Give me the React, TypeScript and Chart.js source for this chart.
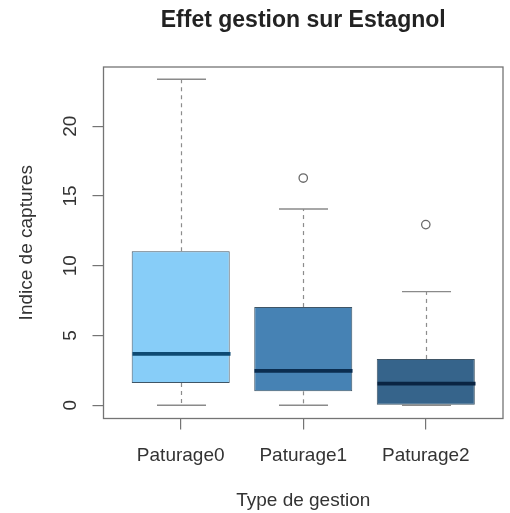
import React, { useEffect, useRef } from 'react';
import { Chart, registerables } from 'chart.js';

Chart.register(...registerables);

// ---- data ----
const categories = ['Paturage0', 'Paturage1', 'Paturage2'];
const lowerWhisker = [0, 0, 0];
const q1 = [1.6, 1.0, 0];
const medians = [3.68, 2.46, 1.55];
const q3 = [11.04, 7.04, 3.32];
const upperWhisker = [23.37, 14.07, 8.15];
const outlierGroups = [2, 3];
const outlierValues = [16.29, 12.95];
const yTicks = [0, 5, 10, 15, 20];

// ---- styles ----
const boxColors = ['#87CDF8', '#4682B4', '#36648B'];
const medianColors = ['#0E4A73', '#0B2D50', '#0A2442'];
const FONT = '"Liberation Sans", Arial, Helvetica, sans-serif';
const FRAME = '#747474';

const boxplotPlugin = {
  id: 'boxplotExtras',
  afterDatasetsDraw(chart: any) {
    const { ctx, chartArea, scales } = chart;
    const x = scales.x;
    const y = scales.y;
    const unit = x.getPixelForValue(2) - x.getPixelForValue(1);
    const boxHalf = unit * 0.4;
    const capHalf = unit * 0.2;
    const line = (x1: number, y1: number, x2: number, y2: number) => {
      ctx.beginPath();
      ctx.moveTo(x1, y1);
      ctx.lineTo(x2, y2);
      ctx.stroke();
    };
    ctx.save();
    for (let i = 0; i < categories.length; i++) {
      const cx = Math.round(x.getPixelForValue(i + 1)) + 0.5;
      const yLow = y.getPixelForValue(lowerWhisker[i]);
      const yQ1 = y.getPixelForValue(q1[i]);
      const yMed = y.getPixelForValue(medians[i]);
      const yQ3 = y.getPixelForValue(q3[i]);
      const yUp = y.getPixelForValue(upperWhisker[i]);
      // dashed whiskers
      ctx.strokeStyle = '#8c8c8c';
      ctx.lineWidth = 1.2;
      ctx.setLineDash([4, 4]);
      if (upperWhisker[i] > q3[i]) line(cx, yQ3, cx, yUp);
      if (lowerWhisker[i] < q1[i]) line(cx, yQ1, cx, yLow);
      ctx.setLineDash([]);
      // caps
      ctx.strokeStyle = '#8a8a8a';
      ctx.lineWidth = 1.3;
      line(cx - capHalf, yUp, cx + capHalf, yUp);
      line(cx - capHalf, yLow, cx + capHalf, yLow);
      // median
      ctx.strokeStyle = medianColors[i];
      ctx.lineWidth = 3.8;
      line(cx - boxHalf, yMed, cx + boxHalf, yMed);
    }
    // plot frame
    ctx.strokeStyle = FRAME;
    ctx.lineWidth = 1.3;
    ctx.strokeRect(
      chartArea.left,
      chartArea.top,
      chartArea.right - chartArea.left,
      chartArea.bottom - chartArea.top
    );
    ctx.restore();
  },
};

export default function App() {
  const ref = useRef<HTMLCanvasElement>(null);

  useEffect(() => {
    const canvas = ref.current;
    if (!canvas) return;
    const tickFont = { family: FONT, size: 19 };
    const chart = new Chart(canvas, {
      type: 'bar',
      data: {
        datasets: [
          {
            type: 'bar',
            data: categories.map((_, i) => ({ x: i + 1, y: [q1[i], q3[i]] })) as any,
            backgroundColor: boxColors,
            borderColor: '#3f5566',
            borderWidth: 1,
            borderSkipped: false,
            barPercentage: 0.8,
            categoryPercentage: 1.0,
          },
          {
            type: 'scatter',
            data: outlierGroups.map((g, i) => ({ x: g, y: outlierValues[i] })),
            pointStyle: 'circle',
            pointRadius: 4.2,
            pointBorderWidth: 1.3,
            pointBorderColor: '#6a6a6a',
            pointBackgroundColor: 'rgba(0,0,0,0)',
            showLine: false,
          } as any,
        ],
      },
      options: {
        responsive: false,
        animation: false,
        events: [],
        layout: { padding: { left: 0, right: 7, top: 0, bottom: 0 } },
        plugins: {
          legend: { display: false },
          tooltip: { enabled: false },
          title: {
            display: true,
            text: 'Effet gestion sur Estagnol',
            fullSize: false,
            color: '#222',
            font: { family: FONT, size: 23, weight: 'bold' },
            padding: { top: 6.8, bottom: 32.6 },
          },
        },
        scales: {
          x: {
            type: 'linear',
            min: 0.37,
            max: 3.63,
            offset: false,
            afterBuildTicks: (s: any) => {
              s.ticks = categories.map((_, i) => ({ value: i + 1 }));
            },
            afterFit: (s: any) => {
              s.height = 94.5;
            },
            grid: {
              display: true,
              offset: false,
              drawOnChartArea: false,
              drawTicks: true,
              tickLength: 11,
              color: FRAME,
              lineWidth: 1.2,
            },
            border: { display: false },
            ticks: {
              autoSkip: false,
              maxRotation: 0,
              minRotation: 0,
              padding: 14.5,
              color: '#333',
              font: tickFont,
              callback: (v: any) => categories[Math.round(Number(v)) - 1] ?? '',
            },
            title: {
              display: true,
              text: 'Type de gestion',
              color: '#333',
              font: tickFont,
              padding: { top: 0, bottom: 1.2 },
            },
          },
          y: {
            type: 'linear',
            min: -0.95,
            max: 24.25,
            afterBuildTicks: (s: any) => {
              s.ticks = yTicks.map((v) => ({ value: v }));
            },
            afterFit: (s: any) => {
              s.width = 103.5;
            },
            grid: {
              display: true,
              drawOnChartArea: false,
              drawTicks: true,
              tickLength: 11,
              color: FRAME,
              lineWidth: 1.2,
            },
            border: { display: false },
            ticks: {
              minRotation: 90,
              maxRotation: 90,
              crossAlign: 'center',
              padding: 11.4,
              color: '#333',
              font: tickFont,
            },
            title: {
              display: true,
              text: 'Indice de captures',
              color: '#333',
              font: tickFont,
              padding: { top: 15.3, bottom: 0 },
            },
          },
        },
      },
      plugins: [boxplotPlugin],
    } as any);
    return () => chart.destroy();
  }, []);

  return (
    <canvas
      ref={ref}
      width={510}
      height={513}
      style={{ position: 'absolute', left: 0, top: 0, width: 510, height: 513, display: 'block' }}
    />
  );
}
